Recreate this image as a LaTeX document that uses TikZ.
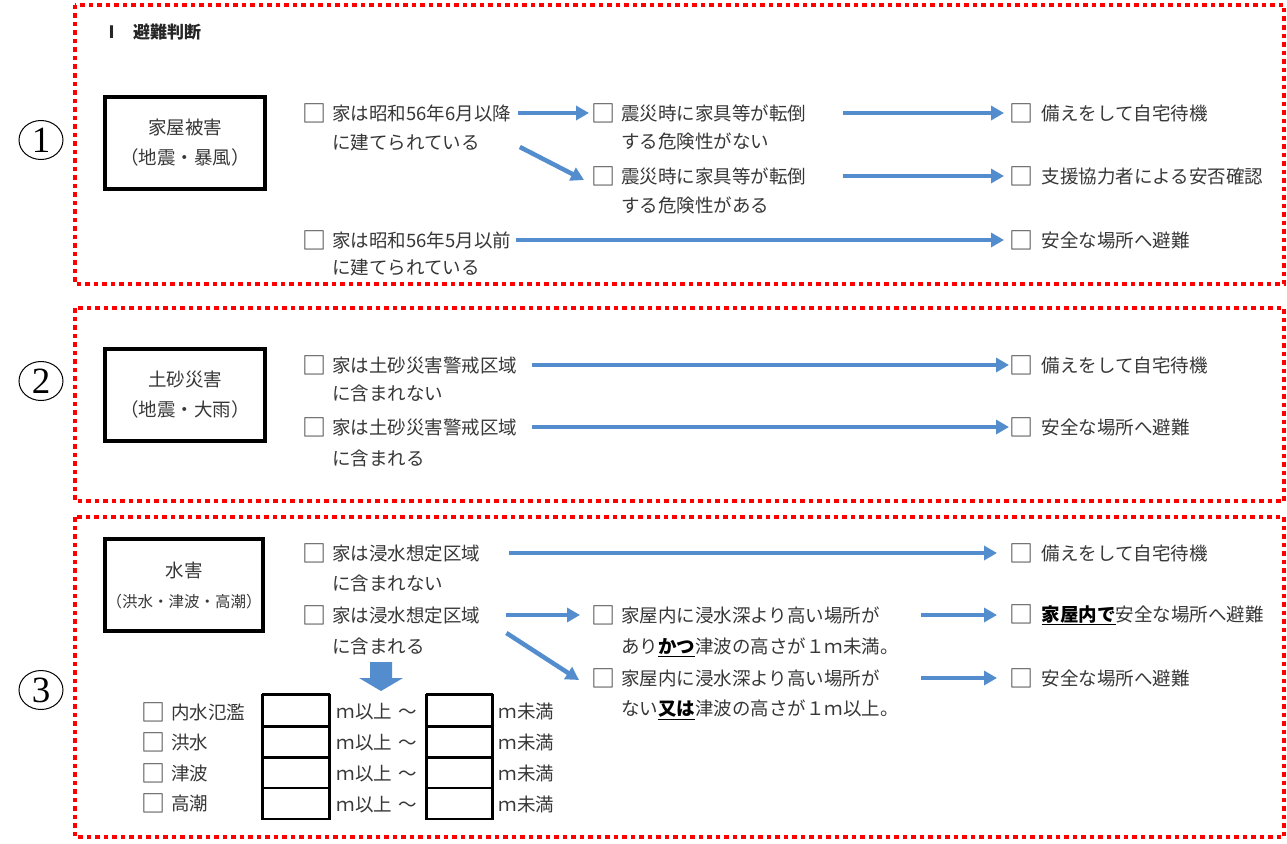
\documentclass[tikz,border=0pt]{standalone}
\usepackage{fontspec}
\setmainfont{Noto Sans CJK JP}
\newfontfamily\serifnum{Liberation Serif}
\usetikzlibrary{arrows.meta,shapes.geometric}
\definecolor{arrowblue}{RGB}{84,141,205}
\definecolor{txtgray}{RGB}{55,55,55}
\newcommand\boxglyph{\makebox[18.5pt][l]{\raisebox{-2pt}{\fontsize{24}{24}\selectfont\color{black!75}□}}}
\newcommand\cbx{\boxglyph\hspace{11.5pt}}
\newcommand\cbn{\boxglyph\hspace{14pt}}
\newcommand\bu[1]{\textcolor{black}{\textbf{\underline{#1}}}}
\begin{document}
\begin{tikzpicture}[x=1pt,y=-1pt,
  sect/.style={draw=red, line width=4.5pt, dash pattern=on 4.5pt off 4pt},
  catbox/.style={draw=black, line width=4pt, minimum width=160pt, minimum height=92pt, align=center, inner sep=0pt, text=txtgray, font=\fontsize{18.5}{30}\selectfont},
  txt/.style={anchor=west, inner sep=0pt, font=\fontsize{18.5}{22}\selectfont, text=txtgray},
  flow/.style={draw=arrowblue, line width=4.5pt, -{Triangle[length=13pt,width=14pt]}},
  num/.style={ellipse, draw=black, line width=1pt, minimum width=44pt, minimum height=39pt, inner sep=0pt, font=\serifnum\fontsize{37}{37}\selectfont},
  cell/.style={draw=black, line width=1.3pt, minimum height=31pt, inner sep=0pt},
  thk/.style={draw=black, line width=3pt},
]
\useasboundingbox[fill=white] (0,0) rectangle (1287,843);

% section frames
\draw[sect] (75,5) rectangle (1284,284);
\draw[sect] (75,308) rectangle (1284,501);
\draw[sect] (75,517) rectangle (1284,837);

% circled numbers
\node[num] (n1) at (41,140) {1};
\node[num] (n2) at (41,381) {2};
\node[num] (n3) at (41,690) {3};

% header
\node[txt, font=\bfseries\fontsize{17}{20}\selectfont, text=black!85] (hdr) at (103,32) {Ⅰ\hspace{13pt}避難判断};

% category boxes
\node[catbox] (catA) at (185,142.5) {家屋被害\\（地震・暴風）};
\node[catbox] (catB) at (185,395) {土砂災害\\（地震・大雨）};
\node[catbox, minimum width=158pt] (catC) at (184,585) {水害\\{\fontsize{15.5}{29}\selectfont （洪水・津波・高潮）}};

% ---------- section 1
\node[txt] (a1) at (302,113) {\cbx 家は昭和56年6月以降};
\node[txt] (a1b) at (332,143) {に建てられている};
\node[txt] (b1) at (591,113) {\cbx 震災時に家具等が転倒};
\node[txt] (b1b) at (621,141) {する危険性がない};
\node[txt] (c1) at (1009,113) {\cbn 備えをして自宅待機};
\node[txt] (b2) at (591,176) {\cbx 震災時に家具等が転倒};
\node[txt] (b2b) at (621,205) {する危険性がある};
\node[txt] (c2) at (1009,176) {\cbn 支援協力者による安否確認};
\node[txt] (a2) at (302,240) {\cbx 家は昭和56年5月以前};
\node[txt] (a2b) at (332,268) {に建てられている};
\node[txt] (c3) at (1009,240) {\cbn 安全な場所へ避難};

\draw[flow] ([shift={(7,0)}]a1.east) -- ([shift={(-2,0)}]b1.west);
\draw[flow] ([shift={(40,4)}]a1b.east) -- ([shift={(-7,4)}]b2.west);
\draw[flow] ([shift={(37,0)}]b1.east) -- ([shift={(-5,0)}]c1.west);
\draw[flow] ([shift={(37,0)}]b2.east) -- ([shift={(-5,0)}]c2.west);
\draw[flow] ([shift={(5,0)}]a2.east) -- ([shift={(-5,0)}]c3.west);

% ---------- section 2
\node[txt] (d1) at (302,365) {\cbx 家は土砂災害警戒区域};
\node[txt] (d1b) at (332,393) {に含まれない};
\node[txt] (e1) at (1009,365) {\cbn 備えをして自宅待機};
\node[txt] (d2) at (302,427) {\cbx 家は土砂災害警戒区域};
\node[txt] (d2b) at (332,458) {に含まれる};
\node[txt] (e2) at (1009,427) {\cbn 安全な場所へ避難};

\draw[flow] ([shift={(15,0)}]d1.east) -- ([shift={(0,0)}]e1.west);
\draw[flow] ([shift={(15,0)}]d2.east) -- ([shift={(0,0)}]e2.west);

% ---------- section 3
\node[txt] (f1) at (302,553) {\cbx 家は浸水想定区域};
\node[txt] (f1b) at (332,583) {に含まれない};
\node[txt] (g1) at (1009,553) {\cbn 備えをして自宅待機};
\node[txt] (f2) at (302,615) {\cbx 家は浸水想定区域};
\node[txt] (f2b) at (332,646) {に含まれる};
\node[txt] (h1) at (591,615) {\cbx 家屋内に浸水深より高い場所が};
\node[txt] (h1b) at (621,647) {あり\bu{かつ}津波の高さが１ｍ未満。};
\node[txt] (h2) at (591,678) {\cbx 家屋内に浸水深より高い場所が};
\node[txt] (h2b) at (621,710) {ない\bu{又は}津波の高さが１ｍ以上。};
\node[txt] (g2) at (1009,615) {\cbn\bu{家屋内で}安全な場所へ避難};
\node[txt] (g3) at (1009,678) {\cbn 安全な場所へ避難};

\draw[flow] ([shift={(29,0)}]f1.east) -- ([shift={(-12,0)}]g1.west);
\draw[flow] ([shift={(26,0)}]f2.east) -- ([shift={(-11,0)}]h1.west);
\draw[flow] ([shift={(26,18)}]f2.east) -- ([shift={(-12,2)}]h2.west);
\draw[flow] ([shift={(41,0)}]h1.east) -- ([shift={(-12,0)}]g2.west);
\draw[flow] ([shift={(41,0)}]h2.east) -- ([shift={(-12,0)}]g3.west);

% block arrow down
\fill[arrowblue] (370,662) -- (392,662) -- (392,678) -- (403,678) -- (381,691) -- (359,678) -- (370,678) -- cycle;

% table
\node[txt] (k1) at (141,712) {\cbx 内水氾濫};
\node[txt] (k2) at (141,742) {\cbx 洪水};
\node[txt] (k3) at (141,773) {\cbx 津波};
\node[txt] (k4) at (141,803) {\cbx 高潮};

\foreach \i/\y in {1/710.5,2/741.5,3/772.5,4/803.5}{
  \node[cell, minimum width=66pt] (L\i) at (296,\y) {};
  \node[cell, minimum width=65pt] (R\i) at (459.5,\y) {};
  \node[txt] (m\i) at ([shift={(7,1)}]L\i.east) {ｍ以上\hspace{6pt}～};
  \node[txt] (u\i) at ([shift={(6,1)}]R\i.east) {ｍ未満};
}
\foreach \c in {L,R}{
  \draw[thk] (\c1.north west) -- (\c1.north east);
  \draw[thk] (\c1.south west) -- (\c1.south east);
  \draw[thk] (\c2.south west) -- (\c2.south east);
  \draw[draw=black, line width=2.5pt] (\c1.north west) -- (\c4.south west);
  \draw[draw=black, line width=2pt] (\c1.north east) -- (\c4.south east);
}
\end{tikzpicture}
\end{document}
